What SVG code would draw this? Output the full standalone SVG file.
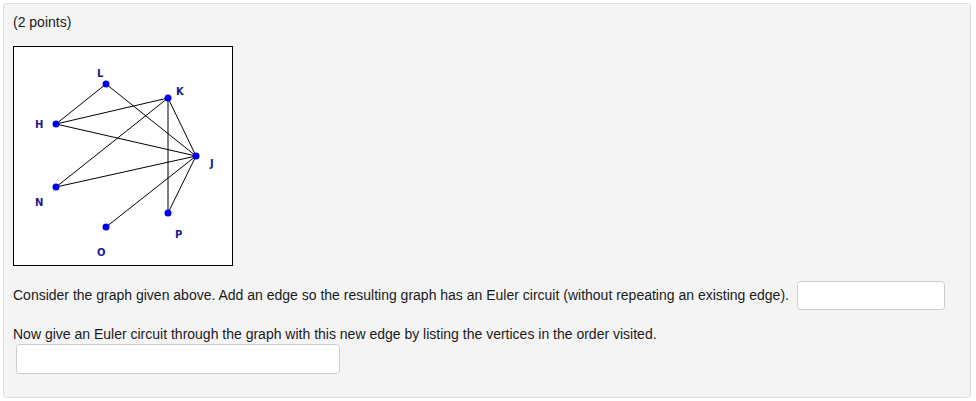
<svg xmlns="http://www.w3.org/2000/svg" width="976" height="401" viewBox="0 0 976 401">
<style>
.t{font-family:"Liberation Sans",Arial,sans-serif;font-size:14px;fill:#1a1a1a}
.lbl{font-family:"DejaVu Sans",sans-serif;font-size:10px;font-weight:bold;fill:#1a1a8c}
.e{stroke:#000;stroke-width:1;fill:none}
.n{fill:#0000ee}
.inp{fill:#fff;stroke:#ccc;stroke-width:1}
</style>
<rect x="0" y="0" width="976" height="401" fill="#fff"/>
<rect x="3.5" y="3.5" width="967" height="394" rx="3" fill="#f4f4f4" stroke="#ddd"/>
<text class="t" x="13" y="27">(2 points)</text>
<rect x="13.5" y="46.5" width="219" height="219" fill="#fff" stroke="#000"/>
<g id="edges">
<line class="e" x1="106" y1="84" x2="56" y2="124"/>
<line class="e" x1="106" y1="84" x2="196" y2="156"/>
<line class="e" x1="56" y1="124" x2="168" y2="98"/>
<line class="e" x1="56" y1="124" x2="196" y2="156"/>
<line class="e" x1="168" y1="98" x2="56" y2="187"/>
<line class="e" x1="168" y1="98" x2="196" y2="156"/>
<line class="e" x1="168" y1="98" x2="168" y2="213"/>
<line class="e" x1="56" y1="187" x2="196" y2="156"/>
<line class="e" x1="106" y1="227" x2="196" y2="156"/>
<line class="e" x1="168" y1="213" x2="196" y2="156"/>
</g>
<g id="L"><circle class="n" cx="106" cy="84" r="3.5"/><text class="lbl" x="97" y="77">L</text></g>
<g id="K"><circle class="n" cx="168" cy="98" r="3.5"/><text class="lbl" x="176" y="95">K</text></g>
<g id="H"><circle class="n" cx="56" cy="124" r="3.5"/><text class="lbl" x="35" y="128">H</text></g>
<g id="J"><circle class="n" cx="196" cy="156" r="3.5"/><text class="lbl" x="210" y="167">J</text></g>
<g id="N"><circle class="n" cx="56" cy="187" r="3.5"/><text class="lbl" x="35" y="206">N</text></g>
<g id="P"><circle class="n" cx="168" cy="213" r="3.5"/><text class="lbl" x="175" y="238">P</text></g>
<g id="O"><circle class="n" cx="106" cy="227" r="3.5"/><text class="lbl" x="97" y="256">O</text></g>
<text class="t" x="13" y="300">Consider the graph given above. Add an edge so the resulting graph has an Euler circuit (without repeating an existing edge).</text>
<rect class="inp" x="797.5" y="281.5" width="147" height="28" rx="3"/>
<text class="t" x="13" y="339">Now give an Euler circuit through the graph with this new edge by listing the vertices in the order visited.</text>
<rect class="inp" x="16.5" y="344.5" width="323" height="29" rx="3"/>
</svg>
